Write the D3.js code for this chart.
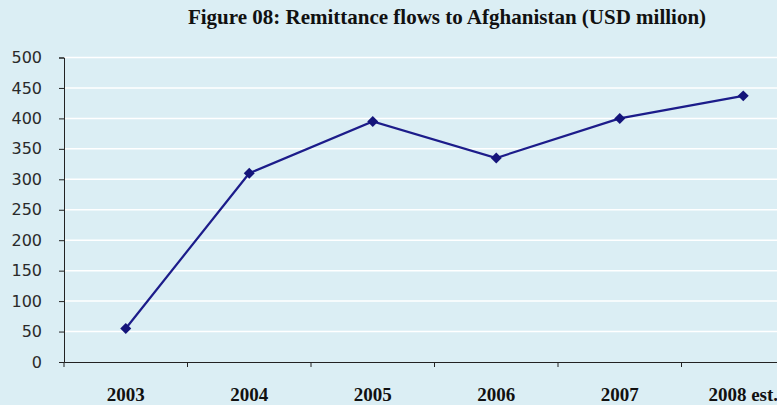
<!DOCTYPE html>
<html><head><meta charset="utf-8">
<script src="https://cdn.jsdelivr.net/npm/d3@7"></script>
<style>html,body{margin:0;padding:0;background:#dbeef4;overflow:hidden}</style>
</head><body><svg id="c" width="777" height="405"></svg>
<script>
const categories = ["2003","2004","2005","2006","2007","2008 est."];
const values = [55, 310, 395, 335, 400, 437];
const yTicks = [0,50,100,150,200,250,300,350,400,450,500];
const title = "Figure 08: Remittance flows to Afghanistan (USD million)";

const svg = d3.select("#c");
svg.append("rect").attr("width",777).attr("height",405).attr("fill","#dbeef4");
const x = d3.scaleBand().domain(categories).range([64, 805]);
const y = d3.scaleLinear().domain([0,500]).range([362, 57.5]);

// gridlines
svg.append("g").selectAll("line").data(yTicks.filter(d=>d>0)).join("line")
  .attr("x1",64).attr("x2",777).attr("y1",d=>y(d)).attr("y2",d=>y(d))
  .attr("stroke","#ffffff").attr("stroke-width",1.5);

// y axis
const ya = svg.append("g").attr("transform","translate(64,0)")
  .call(d3.axisLeft(y).tickValues(yTicks).tickSize(5).tickPadding(17));
ya.select(".domain").attr("stroke","#222").attr("stroke-width",1);
ya.selectAll(".tick line").attr("stroke","#222");
ya.selectAll("text").attr("font-family","DejaVu Sans, Verdana, sans-serif").attr("font-size",16).attr("fill","#2a2a2a");

// x axis
const xa = svg.append("g").attr("transform","translate(0,362)")
  .call(d3.axisBottom(x).tickSize(0).tickPadding(26));
xa.select(".domain").attr("stroke","#222");
xa.selectAll("text").attr("font-family","Liberation Serif, Times New Roman, serif").attr("font-size",19).attr("font-weight","bold").attr("fill","#111");
svg.append("g").selectAll("line").data(categories).join("line")
  .attr("x1",d=>x(d)).attr("x2",d=>x(d)).attr("y1",362).attr("y2",367)
  .attr("stroke","#222");

// line
const line = d3.line().x((d,i)=>x(categories[i])+x.bandwidth()/2).y(d=>y(d));
svg.append("path").datum(values).attr("d",line).attr("fill","none")
  .attr("stroke","#1c1c8a").attr("stroke-width",2.2);
svg.append("g").selectAll("path").data(values).join("path")
  .attr("d",d3.symbol(d3.symbolSquare,60))
  .attr("transform",(d,i)=>`translate(${x(categories[i])+x.bandwidth()/2},${y(d)}) rotate(45)`)
  .attr("fill","#14147a");

svg.append("text").attr("x",447).attr("y",24).attr("text-anchor","middle")
  .attr("font-family","Liberation Serif, Times New Roman, serif").attr("font-weight","bold")
  .attr("font-size",21).attr("fill","#111").text(title);
</script></body></html>
